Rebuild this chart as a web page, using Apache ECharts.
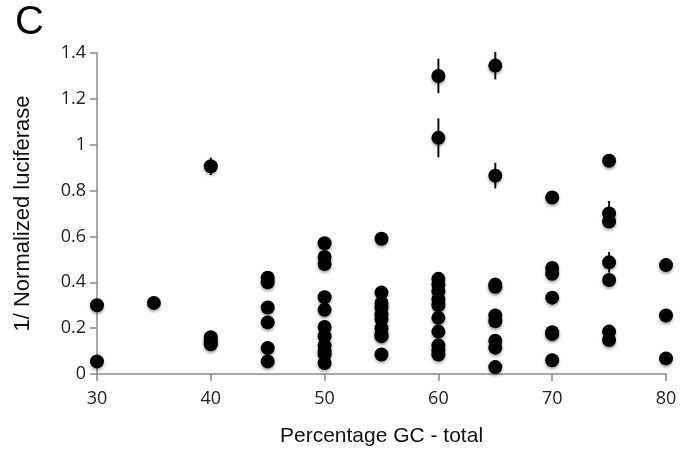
<!DOCTYPE html>
<html>
<head>
<meta charset="utf-8">
<script src="https://cdn.jsdelivr.net/npm/echarts@6/dist/echarts.min.js"></script>
<style>
html,body{margin:0;padding:0;background:#fff;}
#chart{width:681px;height:458px;}
</style>
</head>
<body>
<div id="chart"></div>
<script>
// GC percentage groups and the measured 1/normalized luciferase values
const gc30 = [0.30, 0.055];
const gc35 = [0.31];
const gc40 = [0.906, 0.16, 0.145, 0.13];
const gc45 = [0.42, 0.40, 0.29, 0.225, 0.113, 0.055];
const gc50 = [0.57, 0.51, 0.48, 0.335, 0.28, 0.205, 0.165, 0.125, 0.10, 0.087, 0.048];
const gc55 = [0.59, 0.355, 0.31, 0.29, 0.26, 0.24, 0.20, 0.175, 0.165, 0.085];
const gc60 = [1.30, 1.03, 0.415, 0.39, 0.36, 0.325, 0.30, 0.245, 0.185, 0.125, 0.105, 0.085];
const gc65 = [1.345, 0.865, 0.39, 0.38, 0.255, 0.23, 0.145, 0.115, 0.03];
const gc70 = [0.77, 0.462, 0.437, 0.333, 0.182, 0.175, 0.06];
const gc75 = [0.93, 0.70, 0.665, 0.487, 0.41, 0.185, 0.148];
const gc80 = [0.475, 0.255, 0.068];
const gcLevels = [30, 35, 40, 45, 50, 55, 60, 65, 70, 75, 80];
const gcGroups = [gc30, gc35, gc40, gc45, gc50, gc55, gc60, gc65, gc70, gc75, gc80];

// visible error bars (x, y, half-length)
const errX = [40, 60, 60, 65, 65, 75, 75];
const errY = [0.906, 1.30, 1.03, 1.345, 0.865, 0.70, 0.487];
const errHalf = [0.038, 0.075, 0.085, 0.06, 0.056, 0.055, 0.045];

const xTicks = {min: 30, max: 80, interval: 10};
const yTicks = {min: 0, max: 1.4, interval: 0.2};

const points = [];
gcLevels.forEach((g, i) => gcGroups[i].forEach(v => points.push([g, v])));
const errData = errX.map((x, i) => [x, errY[i] - errHalf[i], errY[i] + errHalf[i]]);

const chart = echarts.init(document.getElementById('chart'), null, {renderer: 'canvas'});
const axisColor = '#8a8a8a';
chart.setOption({
  animation: false,
  backgroundColor: '#fff',
  grid: {left: 97, right: 15, top: 53, bottom: 84, containLabel: false},
  graphic: [{
    type: 'text', left: 15, top: 3,
    style: {text: 'C', font: '40px "Liberation Sans", Arial, sans-serif', fill: '#000'}
  }],
  xAxis: {
    type: 'value', min: xTicks.min, max: xTicks.max, interval: xTicks.interval,
    name: 'Percentage GC - total', nameLocation: 'middle', nameGap: 52,
    nameTextStyle: {fontFamily: '"Liberation Sans", Arial, sans-serif', fontSize: 21, color: '#111'},
    axisLine: {lineStyle: {color: axisColor, width: 1.5}},
    axisTick: {show: true, inside: false, length: 7, lineStyle: {color: axisColor, width: 1.5}},
    axisLabel: {margin: 16, fontFamily: '"Open Sans", sans-serif', fontSize: 18, color: '#222'},
    splitLine: {show: false}
  },
  yAxis: {
    type: 'value', min: yTicks.min, max: yTicks.max, interval: yTicks.interval,
    name: '1/ Normalized luciferase', nameLocation: 'middle', nameGap: 63, nameRotate: 90,
    nameTextStyle: {fontFamily: '"Liberation Sans", Arial, sans-serif', fontSize: 22, color: '#111'},
    axisLine: {show: true, lineStyle: {color: axisColor, width: 1.5}},
    axisTick: {show: true, inside: false, length: 7, lineStyle: {color: axisColor, width: 1.5}},
    axisLabel: {margin: 11, fontFamily: '"Open Sans", sans-serif', fontSize: 18, color: '#222'},
    splitLine: {show: false}
  },
  series: [
    {
      type: 'custom',
      z: 1,
      data: errData,
      renderItem: function (params, api) {
        const top = api.coord([api.value(0), api.value(2)]);
        const bot = api.coord([api.value(0), api.value(1)]);
        return {
          type: 'line',
          shape: {x1: top[0], y1: top[1], x2: bot[0], y2: bot[1]},
          style: {stroke: '#111', lineWidth: 2}
        };
      }
    },
    {
      type: 'scatter',
      z: 2,
      symbol: 'circle',
      symbolSize: 14,
      data: points,
      itemStyle: {color: '#000', opacity: 1, shadowBlur: 3, shadowOffsetY: 2, shadowColor: 'rgba(0,0,0,0.35)'}
    }
  ]
});
</script>
</body>
</html>
